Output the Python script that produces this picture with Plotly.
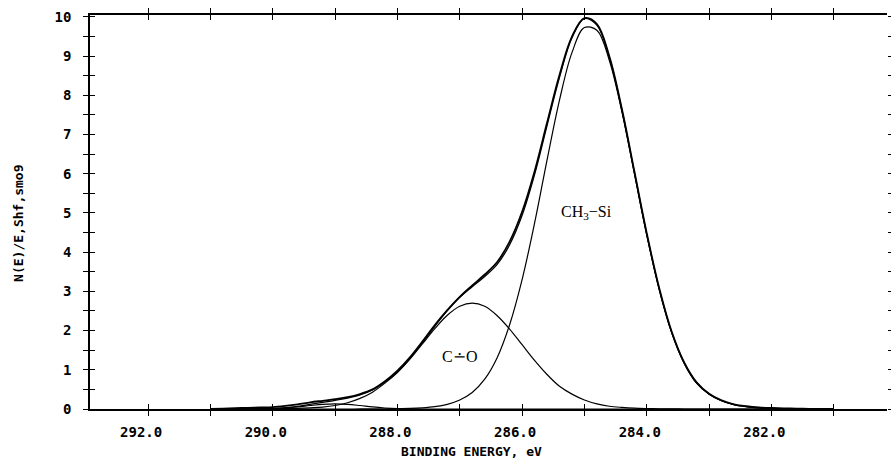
import plotly.graph_objects as go

# C 1s spectrum after Shirley background subtraction and smoothing
energy_ev = [291.0, 290.8, 290.6, 290.4, 290.2, 290.0, 289.8, 289.6, 289.4, 289.2,
             289.0, 288.8, 288.6, 288.4, 288.2, 288.0, 287.8, 287.6, 287.4, 287.2,
             287.0, 286.8, 286.6, 286.4, 286.2, 286.0, 285.8, 285.6, 285.4, 285.2,
             285.0, 284.8, 284.6, 284.4, 284.2, 284.0, 283.8, 283.6, 283.4, 283.2,
             283.0, 282.8, 282.6, 282.4, 282.2, 282.0, 281.8, 281.6, 281.4, 281.2,
             281.0]

# measured intensity
measured = [0.0, 0.01, 0.02, 0.03, 0.04, 0.05, 0.08, 0.12, 0.17, 0.21,
            0.25, 0.30, 0.38, 0.50, 0.71, 0.98, 1.32, 1.72, 2.14, 2.52,
            2.86, 3.15, 3.43, 3.75, 4.27, 5.03, 6.06, 7.30, 8.52, 9.50,
            9.97, 9.82, 8.99, 7.66, 6.07, 4.48, 3.08, 1.97, 1.19, 0.68,
            0.39, 0.22, 0.12, 0.07, 0.04, 0.025, 0.015, 0.01, 0.005, 0.0,
            0.0]

# fitted components
ch3_si = [0, 0, 0, 0, 0, 0, 0, 0, 0, 0,
          0, 0, 0.001, 0.002, 0.005, 0.01, 0.015, 0.03, 0.06, 0.12,
          0.23, 0.42, 0.76, 1.31, 2.15, 3.30, 4.74, 6.35, 7.88, 9.09,
          9.73, 9.66, 8.89, 7.59, 6.02, 4.44, 3.05, 1.95, 1.17, 0.66,
          0.38, 0.21, 0.11, 0.06, 0.03, 0.015, 0.008, 0.004, 0.002, 0.001,
          0]
c_o = [0, 0, 0, 0.001, 0.002, 0.004, 0.008, 0.015, 0.03, 0.05,
       0.09, 0.16, 0.27, 0.43, 0.66, 0.93, 1.27, 1.66, 2.05, 2.39,
       2.62, 2.70, 2.62, 2.38, 2.04, 1.64, 1.24, 0.88, 0.58, 0.38,
       0.23, 0.13, 0.07, 0.04, 0.02, 0.01, 0.005, 0.002, 0, 0,
       0, 0, 0, 0, 0, 0, 0, 0, 0, 0,
       0]
minor = [0, 0, 0, 0, 0.004, 0.011, 0.027, 0.053, 0.088, 0.118,
         0.13, 0.118, 0.088, 0.053, 0.027, 0.011, 0.004, 0.001, 0, 0,
         0, 0, 0, 0, 0, 0, 0, 0, 0, 0,
         0, 0, 0, 0, 0, 0, 0, 0, 0, 0,
         0, 0, 0, 0, 0, 0, 0, 0, 0, 0,
         0]

# sum of the fitted components
envelope = [a + b + c for a, b, c in zip(ch3_si, c_o, minor)]

x_ticks = [292, 290, 288, 286, 284, 282]
x_labels = ["292.0", "290.0", "288.0", "286.0", "284.0", "282.0"]
y_ticks = list(range(11))
y_labels = [str(v) for v in y_ticks]

X_RANGE = [292.932, 280.146]
Y_RANGE = [0, 10.05]
INK = "black"
MONO = dict(family="DejaVu Sans Mono", size=14, color=INK, weight="bold")

fig = go.Figure()

line_kw = dict(mode="lines", line_shape="spline", hoverinfo="skip")
fig.add_trace(go.Scatter(x=energy_ev, y=minor, line=dict(color=INK, width=1.1), **line_kw))
fig.add_trace(go.Scatter(x=energy_ev, y=c_o, line=dict(color=INK, width=1.2), **line_kw))
fig.add_trace(go.Scatter(x=energy_ev, y=ch3_si, line=dict(color=INK, width=1.2), **line_kw))
fig.add_trace(go.Scatter(x=energy_ev, y=envelope, line=dict(color=INK, width=1.3), **line_kw))
fig.add_trace(go.Scatter(x=energy_ev, y=measured, line=dict(color=INK, width=1.8), **line_kw))

# helper traces so the overlay axes (inner ticks, right-hand ticks) are drawn
fig.add_trace(go.Scatter(x=[None], y=[None], xaxis="x2", yaxis="y2", showlegend=False, hoverinfo="skip"))
fig.add_trace(go.Scatter(x=[None], y=[None], xaxis="x", yaxis="y3", showlegend=False, hoverinfo="skip"))

x_minor = dict(tick0=281, dtick=1, ticklen=5, tickwidth=1.4, tickcolor=INK)
y_minor = dict(tick0=0, dtick=0.5, ticklen=5, tickwidth=1.4, tickcolor=INK)

common_x = dict(range=X_RANGE, tickvals=x_ticks, showgrid=False, zeroline=False,
                tickcolor=INK, tickwidth=1.4, ticklen=5)
common_y = dict(range=Y_RANGE, tickvals=y_ticks, showgrid=False, zeroline=False,
                tickcolor=INK, tickwidth=1.4, ticklen=5)

fig.update_layout(
    width=893, height=460,
    margin=dict(l=90, r=3, t=15, b=51),
    plot_bgcolor="white", paper_bgcolor="white",
    showlegend=False,
    xaxis=dict(**common_x, ticktext=x_labels, ticks="outside", showline=True,
               linecolor=INK, linewidth=2, mirror="ticks", tickfont=MONO,
               ticklabelshift=7, ticklabelstandoff=4,
               minor=dict(**x_minor, ticks="outside")),
    xaxis2=dict(**common_x, overlaying="x", anchor="y2", ticks="inside",
                showline=False, mirror="ticks", showticklabels=False,
                minor=dict(**x_minor, ticks="inside")),
    yaxis=dict(**common_y, ticktext=y_labels, ticks="outside",
               showline=True, linecolor=INK, linewidth=1.5, tickfont=MONO,
               ticklabelstandoff=9, minor=dict(**y_minor, ticks="outside")),
    yaxis2=dict(**common_y, overlaying="y", anchor="x2", side="left", ticks="inside",
                showline=False, showticklabels=False,
                minor=dict(**y_minor, ticks="inside")),
    yaxis3=dict(range=Y_RANGE, tick0=0.5, dtick=0.5, overlaying="y", anchor="x",
                side="right", ticks="outside", ticklen=3, tickwidth=1.2,
                tickcolor=INK, showline=False, showgrid=False, zeroline=False,
                showticklabels=False),
)

serif = dict(family="Liberation Serif, DejaVu Serif", size=16, color=INK)
fig.add_annotation(x=284.97, y=5.0, text="CH<sub>3</sub>\u2212Si", showarrow=False, font=serif)
fig.add_annotation(x=286.99, y=1.33, text="C\u2238O", showarrow=False, font=serif)

fig.add_annotation(xref="paper", yref="paper", x=0.479, y=-0.109, text="BINDING ENERGY, eV",
                   showarrow=False, yanchor="middle",
                   font=dict(family="DejaVu Sans Mono", size=13, color=INK, weight="bold"))
fig.add_annotation(xref="paper", yref="paper", x=-0.089, y=0.47, text="N(E)/E,Shf,smo9",
                   showarrow=False, textangle=-90, xanchor="center", yanchor="middle",
                   font=dict(family="DejaVu Sans Mono", size=13, color=INK, weight="bold"))

fig.write_html("out.html")
